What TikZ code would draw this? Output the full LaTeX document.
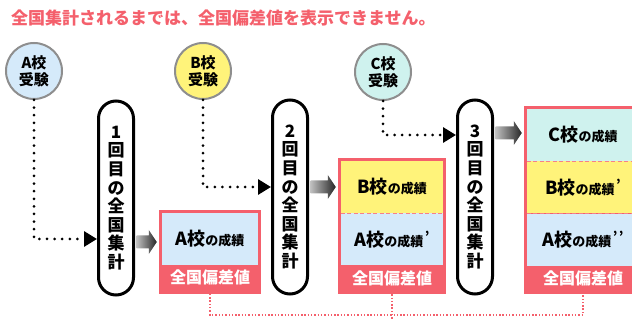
\documentclass[tikz,border=0pt]{standalone}
\usepackage{fontspec}
\setmainfont{Noto Sans CJK JP}[BoldFont={Noto Sans CJK JP Black}]
\usetikzlibrary{arrows.meta,positioning,fit,backgrounds,calc}
\definecolor{pnk}{HTML}{F4606C}
\definecolor{skyb}{HTML}{D5EAFA}
\definecolor{yel}{HTML}{FFF37A}
\definecolor{cyn}{HTML}{CFF2EE}
\definecolor{rimg}{HTML}{8E8E8E}
\tikzset{
  exam/.style   ={circle,draw=rimg,line width=2pt,minimum size=56pt,inner sep=0pt,
                  align=center,font=\fontsize{15}{17}\selectfont\bfseries},
  tally/.style  ={draw=black,line width=3pt,rounded corners=17.5pt,minimum width=35pt,
                  minimum height=194pt,inner sep=0pt,align=center,
                  font=\fontsize{17}{18.6}\selectfont\bfseries},
  score/.style  ={inner sep=0pt,minimum height=52pt,font=\bfseries},
  dev/.style    ={fill=pnk,text=white,inner sep=0pt,minimum height=25pt,
                  font=\fontsize{16}{16}\selectfont\bfseries},
  frame/.style  ={draw=pnk,fill=pnk,line width=3pt,inner sep=1.5pt},
  sep/.style    ={draw=pnk!80,line width=.8pt,dash pattern=on 4pt off 2.5pt},
  dots/.style   ={line width=3pt,line cap=round,dash pattern=on 0pt off 7.6pt,
                  -{Triangle[length=13pt,width=15pt]}},
  devlink/.style={draw=pnk,line width=1.4pt,dash pattern=on 1.4pt off 1.9pt},
  push/.style   ={left color=black!25,right color=black!85},
}
\newcommand\seki[1]{{\fontsize{18}{18}\selectfont #1校}{\fontsize{13}{13}\selectfont の成績}}
\newcommand\prm{\hspace{1.5pt}\raisebox{5pt}{\fontsize{13}{13}\selectfont '}}
\newcommand\pusharrow[2]{%
  \shade[push] ($(#1)+(0,-6.5)$) -- ($(#2)+(-8,-6.5)$) -- ($(#2)+(-8,-12)$) -- (#2)
    -- ($(#2)+(-8,12)$) -- ($(#2)+(-8,6.5)$) -- ($(#1)+(0,6.5)$) -- cycle;}

\begin{document}
\begin{tikzpicture}[x=1pt,y=-1pt]
  \useasboundingbox (0,0) rectangle (632,320);
  \clip (0,0) rectangle (632,320);
  \node[anchor=west,text=pnk,inner sep=0pt,font=\fontsize{17}{17}\selectfont\bfseries] (title)
        at (11,18) {全国集計されるまでは、全国偏差値を表示できません。};

  % exams
  \node[exam,fill=skyb] (ea) at (34,71) {A校\\受験};
  \node[exam,fill=yel]  (eb) at (203,71) {B校\\受験};
  \node[exam,fill=cyn]  (ec) at (383,72) {C校\\受験};

  % national tallies
  \node[tally] (p1) at (116,198) {1\\回\\目\\の\\全\\国\\集\\計};
  \node[tally] (p2) at (290,197) {2\\回\\目\\の\\全\\国\\集\\計};
  \node[tally] (p3) at (475,197) {3\\回\\目\\の\\全\\国\\集\\計};

  % result boxes
  \node[score,fill=skyb,minimum width=96pt] (a1) at (210,239) {\seki{A}};
  \node[dev,minimum width=96pt,below=0pt of a1] (dev1) {全国偏差値};

  \node[score,fill=yel,minimum width=102pt] (b2) at (392,187) {\seki{B}};
  \node[score,fill=skyb,minimum width=102pt,below=0pt of b2] (a2) {\seki{A}\prm};
  \node[dev,minimum width=102pt,below=0pt of a2] (dev2) {全国偏差値};
  \draw[sep] (b2.south west) -- (b2.south east);

  \node[score,fill=cyn,minimum width=112pt] (c3) at (583,135) {\seki{C}};
  \node[score,fill=yel,minimum width=112pt,below=0pt of c3] (b3) {\seki{B}\prm};
  \node[score,fill=skyb,minimum width=112pt,below=0pt of b3] (a3) {\seki{A}\prm\prm};
  \node[dev,minimum width=112pt,below=0pt of a3] (dev3) {全国偏差値};
  \draw[sep] (c3.south west) -- (c3.south east);
  \draw[sep] (b3.south west) -- (b3.south east);

  \begin{scope}[on background layer]
    \node[frame,fit=(a1)(dev1)] (f1) {};
    \node[frame,fit=(b2)(dev2)] (f2) {};
    \node[frame,fit=(c3)(dev3)] (f3) {};
  \end{scope}

  % exam -> tally
  \draw[dots] (ea.south) |- (p1.west |- a1);
  \draw[dots] (eb.south) |- (p2.west |- b2);
  \draw[dots] (ec.south) |- (p3.west |- c3);

  % tally -> box
  \pusharrow{$(p1.east |- a1)+(1.5,3)$}{$(f1.west |- a1)+(-2,3)$}
  \pusharrow{$(p2.east |- b2)+(1.5,0)$}{$(f2.west |- b2)+(-2,0)$}
  \pusharrow{$(p3.east |- c3)+(1.5,-2)$}{$(f3.west |- c3)+(-2,-2)$}

  % deviation link
  \coordinate (low) at (0,315);
  \coordinate (bot) at (0,321);
  \draw[devlink] (dev1.south) |- (low -| dev3.south) -- (dev3.south);
  \draw[devlink] (dev2.south) -- (dev2.south |- bot);
\end{tikzpicture}
\end{document}
